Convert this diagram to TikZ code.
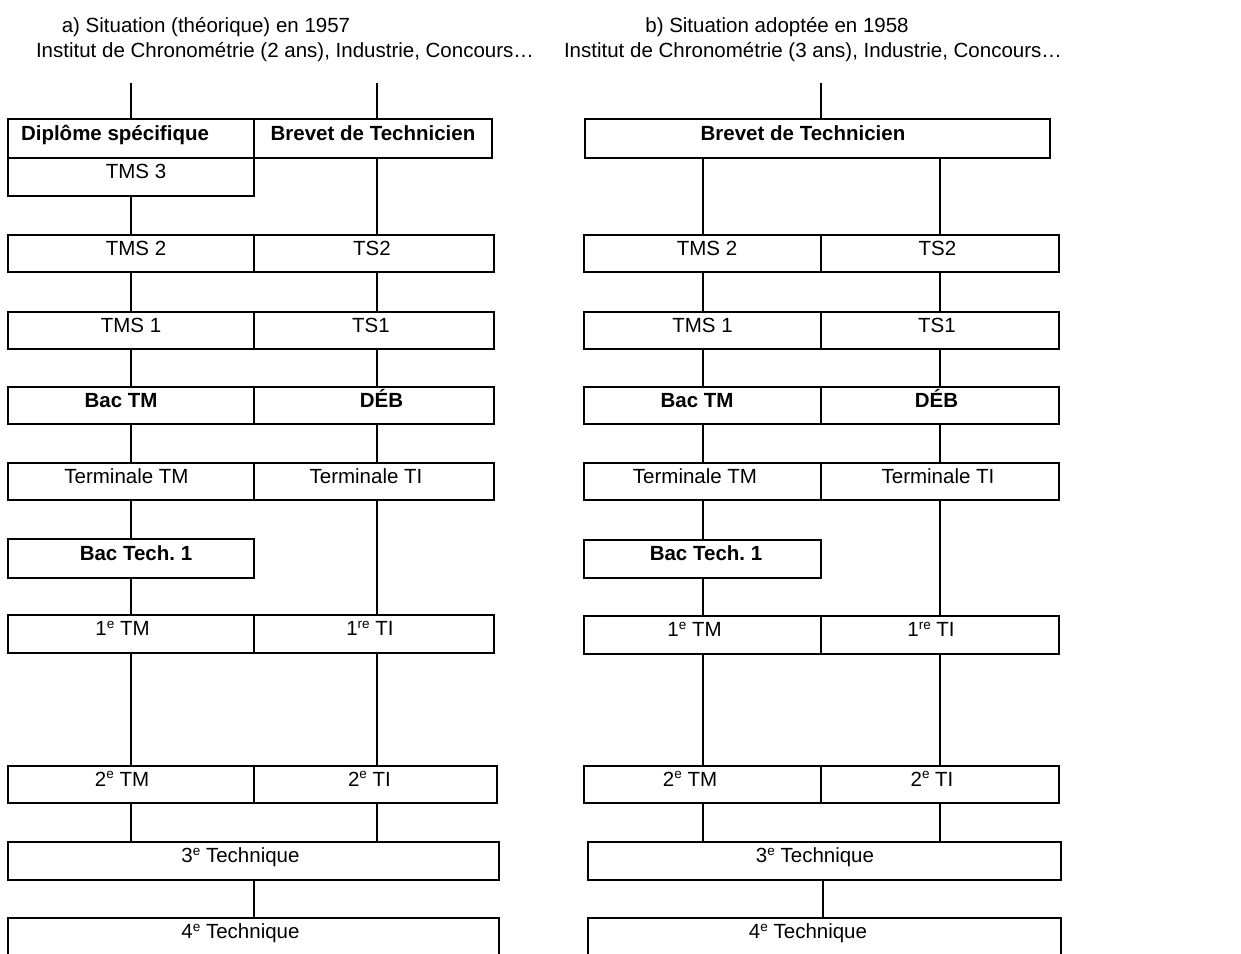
\documentclass[tikz,border=0pt]{standalone}
\usepackage{fontspec}
\setmainfont{Liberation Sans}
\newcommand\supx[1]{\raisebox{7.5pt}{\fontsize{13.5}{14}\selectfont #1}}
\begin{document}
\frenchspacing
\begin{tikzpicture}[x=1pt,y=-1pt,
  every node/.style={font=\fontsize{20.5}{24}\selectfont},
  cell/.style={draw, line width=2pt, inner sep=0pt, text height=20pt, text depth=17pt},
  tshift/.style={execute at begin node={\kern#1pt\kern#1pt}},
  conn/.style={line width=2pt},
  title/.style={anchor=base, inner sep=0pt}]
\useasboundingbox (0,0) rectangle (1241,953);
\clip (0,0) rectangle (1241,953);

% titles
\node[title] (ta) at (206,32) {a) Situation (théorique) en 1957};
\node[title] (sa) at (285,57) {Institut de Chronométrie (2 ans), Industrie, Concours…};
\node[title] (tb) at (777,32) {b) Situation adoptée en 1958};
\node[title] (sb) at (813,57) {Institut de Chronométrie (3 ans), Industrie, Concours…};

% left panel
\node[cell, tshift=-16, minimum width=246, minimum height=39] (dipA) at (131,138.5) {\bfseries Diplôme spécifique};
\node[cell, tshift=0, minimum width=238, minimum height=39] (brvL) at (373,138.5) {\bfseries Brevet de Technicien};
\node[cell, tshift=5, minimum width=246, minimum height=38] (tms3) at (131,177) {TMS 3};
\node[cell, tshift=5, minimum width=246, minimum height=37] (tms2L) at (131,253.5) {TMS 2};
\node[cell, tshift=-2, minimum width=240, minimum height=37] (ts2L) at (374,253.5) {TS2};
\node[cell, tshift=0, minimum width=246, minimum height=37] (tms1L) at (131,330.5) {TMS 1};
\node[cell, tshift=-3, minimum width=240, minimum height=37] (ts1L) at (374,330.5) {TS1};
\node[cell, tshift=-10, minimum width=246, minimum height=37] (bacL) at (131,405.5) {\bfseries Bac TM};
\node[cell, tshift=7.5, minimum width=240, minimum height=37] (debL) at (374,405.5) {\bfseries DÉB};
\node[cell, tshift=-4.5, minimum width=246, minimum height=37] (termL) at (131,481.5) {Terminale TM};
\node[cell, tshift=-8, minimum width=240, minimum height=37] (termiL) at (374,481.5) {Terminale TI};
\node[cell, tshift=5, minimum width=246, minimum height=39] (btL) at (131,558.5) {\bfseries Bac Tech. 1};
\node[cell, tshift=-8.5, minimum width=246, minimum height=38] (p1L) at (131,634) {1\supx{e} TM};
\node[cell, tshift=-4, minimum width=240, minimum height=38] (p1iL) at (374,634) {1\supx{re} TI};
\node[cell, tshift=-9, minimum width=246, minimum height=37] (s2L) at (131,784.5) {2\supx{e} TM};
\node[cell, tshift=-6, minimum width=243, minimum height=37] (s2iL) at (375.5,784.5) {2\supx{e} TI};
\node[cell, tshift=-13, minimum width=491, minimum height=38] (t3L) at (253.5,861) {3\supx{e} Technique};
\node[cell, tshift=-13, minimum width=491, minimum height=38] (t4L) at (253.5,937) {4\supx{e} Technique};

% right panel
\node[cell, tshift=-14.5, minimum width=465, minimum height=39] (brvR) at (817.5,138.5) {\bfseries Brevet de Technicien};
\node[cell, tshift=4.5, minimum width=237, minimum height=37] (tms2R) at (702.5,253.5) {TMS 2};
\node[cell, tshift=-2.5, minimum width=238, minimum height=37] (ts2R) at (940,253.5) {TS2};
\node[cell, tshift=0, minimum width=237, minimum height=37] (tms1R) at (702.5,330.5) {TMS 1};
\node[cell, tshift=-3, minimum width=238, minimum height=37] (ts1R) at (940,330.5) {TS1};
\node[cell, tshift=-5.5, minimum width=237, minimum height=37] (bacR) at (702.5,405.5) {\bfseries Bac TM};
\node[cell, tshift=-3.5, minimum width=238, minimum height=37] (debR) at (940,405.5) {\bfseries DÉB};
\node[cell, tshift=-7.5, minimum width=237, minimum height=37] (termR) at (702.5,481.5) {Terminale TM};
\node[cell, tshift=-2, minimum width=238, minimum height=37] (termiR) at (940,481.5) {Terminale TI};
\node[cell, tshift=3.5, minimum width=237, minimum height=38] (btR) at (702.5,559) {\bfseries Bac Tech. 1};
\node[cell, tshift=-8, minimum width=237, minimum height=38] (p1R) at (702.5,635) {1\supx{e} TM};
\node[cell, tshift=-9, minimum width=238, minimum height=38] (p1iR) at (940,635) {1\supx{re} TI};
\node[cell, tshift=-12.5, minimum width=237, minimum height=37] (s2R) at (702.5,784.5) {2\supx{e} TM};
\node[cell, tshift=-8, minimum width=238, minimum height=37] (s2iR) at (940,784.5) {2\supx{e} TI};
\node[cell, tshift=-9.5, minimum width=473, minimum height=38] (t3R) at (824.5,861) {3\supx{e} Technique};
\node[cell, tshift=-16.5, minimum width=473, minimum height=38] (t4R) at (824.5,937) {4\supx{e} Technique};

% connector columns
\coordinate (cLa) at (131,0);
\coordinate (cLb) at (377,0);
\coordinate (cLm) at (254,0);
\coordinate (cRa) at (703,0);
\coordinate (cRb) at (940,0);
\coordinate (cRm) at (823,0);
\coordinate (topLa) at (131,83);
\coordinate (topLb) at (377,83);
\coordinate (topR) at (821,83);

\draw[conn] (topLa) -- (dipA.north -| topLa);
\draw[conn] (topLb) -- (brvL.north -| topLb);
\draw[conn] (topR) -- (brvR.north -| topR);

\foreach \a/\b/\c in {tms3/tms2L/cLa, brvL/ts2L/cLb, tms2L/tms1L/cLa, ts2L/ts1L/cLb,
  tms1L/bacL/cLa, ts1L/debL/cLb, bacL/termL/cLa, debL/termiL/cLb, termL/btL/cLa,
  termiL/p1iL/cLb, btL/p1L/cLa, p1L/s2L/cLa, p1iL/s2iL/cLb, s2L/t3L/cLa, s2iL/t3L/cLb,
  t3L/t4L/cLm,
  brvR/tms2R/cRa, brvR/ts2R/cRb, tms2R/tms1R/cRa, ts2R/ts1R/cRb, tms1R/bacR/cRa,
  ts1R/debR/cRb, bacR/termR/cRa, debR/termiR/cRb, termR/btR/cRa, termiR/p1iR/cRb,
  btR/p1R/cRa, p1R/s2R/cRa, p1iR/s2iR/cRb, s2R/t3R/cRa, s2iR/t3R/cRb, t3R/t4R/cRm}
  \draw[conn] (\a.south -| \c) -- (\b.north -| \c);
\end{tikzpicture}
\end{document}
